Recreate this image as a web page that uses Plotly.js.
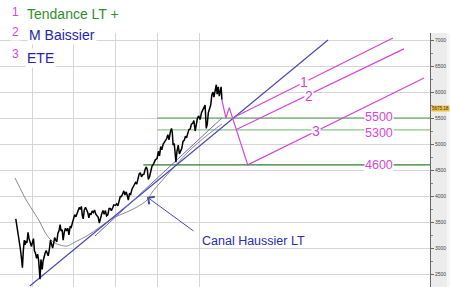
<!DOCTYPE html>
<html><head><meta charset="utf-8">
<script src="https://cdn.plot.ly/plotly-3.0.1.min.js"></script>
<style>html,body{margin:0;padding:0;background:#fff}#c{width:450px;height:287px}</style>
</head><body><div id="c"></div>
<script>
const priceDates = ['2002-08-12','2002-08-22','2002-09-01','2002-09-10','2002-09-20','2002-10-01','2002-10-09','2002-10-17','2002-10-25','2002-11-01','2002-11-08','2002-11-18','2002-11-27','2002-12-06','2002-12-16','2002-12-27',
'2003-01-06','2003-01-14','2003-01-22','2003-01-31','2003-02-10','2003-02-19','2003-02-28','2003-03-07','2003-03-12','2003-03-20','2003-03-31','2003-04-08','2003-04-17','2003-04-25','2003-05-05','2003-05-14','2003-05-23','2003-06-02','2003-06-12','2003-06-20','2003-06-30','2003-07-10','2003-07-18','2003-07-28','2003-08-06','2003-08-15','2003-08-25','2003-09-04','2003-09-12','2003-09-22','2003-09-30','2003-10-10','2003-10-20','2003-10-30','2003-11-10','2003-11-20','2003-12-01','2003-12-10','2003-12-19','2003-12-31',
'2004-01-09','2004-01-20','2004-01-30','2004-02-09','2004-02-18','2004-02-27','2004-03-08','2004-03-16','2004-03-24','2004-04-02','2004-04-13','2004-04-22','2004-05-03','2004-05-12','2004-05-21','2004-06-01','2004-06-10','2004-06-21','2004-07-01','2004-07-12','2004-07-22','2004-08-02','2004-08-12','2004-08-23','2004-09-02','2004-09-13','2004-09-23','2004-10-04','2004-10-14','2004-10-25','2004-11-05','2004-11-16','2004-11-25','2004-12-06','2004-12-16','2004-12-30',
'2005-01-11','2005-01-21','2005-02-01','2005-02-11','2005-02-22','2005-03-04','2005-03-14','2005-03-23','2005-04-04','2005-04-14','2005-04-22','2005-05-03','2005-05-13','2005-05-24','2005-06-03','2005-06-14','2005-06-24','2005-07-05','2005-07-15','2005-07-26','2005-08-05','2005-08-16','2005-08-26','2005-09-06','2005-09-16','2005-09-27','2005-10-06','2005-10-14','2005-10-25','2005-11-04','2005-11-15','2005-11-25','2005-12-06','2005-12-16','2005-12-30',
'2006-01-10','2006-01-20','2006-01-31','2006-02-10','2006-02-21','2006-03-03','2006-03-13','2006-03-23','2006-04-03','2006-04-13','2006-04-25','2006-05-05','2006-05-12','2006-05-19','2006-05-29','2006-06-07','2006-06-13','2006-06-22','2006-07-03','2006-07-13','2006-07-24','2006-08-03','2006-08-14','2006-08-24','2006-09-04','2006-09-14','2006-09-25','2006-10-05','2006-10-16','2006-10-26','2006-11-07','2006-11-17','2006-11-28','2006-12-07','2006-12-18','2006-12-29',
'2007-01-10','2007-01-22','2007-02-01','2007-02-13','2007-02-23','2007-03-05','2007-03-14','2007-03-23','2007-04-03','2007-04-13','2007-04-23','2007-05-03','2007-05-11','2007-05-21','2007-06-01','2007-06-08','2007-06-18','2007-06-27','2007-07-06','2007-07-13','2007-07-20'];
const priceValues = [3560,3420,3330,3150,3000,2800,2620,2950,3150,3060,3120,3100,3300,3180,3110,3030,
3120,3180,2950,2900,2800,2880,2760,2600,2400,2780,2590,2750,2850,2900,2950,2880,2850,2980,3150,3080,3000,3100,3200,3150,3120,3280,3330,3450,3330,3350,3150,3300,3380,3330,3380,3250,3420,3400,3490,3560,
3640,3600,3660,3720,3780,3740,3800,3620,3560,3730,3780,3740,3680,3580,3660,3650,3710,3680,3730,3650,3620,3590,3480,3600,3660,3720,3650,3720,3620,3640,3760,3760,3720,3770,3830,3820,
3850,3810,3930,3990,3990,4070,4100,4020,4080,4000,3920,4050,4030,4130,4180,4220,4260,4230,4350,4420,4450,4370,4410,4420,4510,4560,4500,4320,4370,4490,4570,4600,4650,4700,4720,
4860,4770,4950,4890,5000,5030,5060,5100,5180,5080,5230,5300,5220,4980,5010,4790,4650,4860,4980,4810,4880,4920,5050,5070,5150,5120,5210,5280,5290,5380,5400,5450,5250,5400,5500,5540,
5470,5600,5650,5720,5750,5300,5380,5600,5680,5750,5950,6000,5900,6050,6140,5960,6100,5920,6050,6100,5850];

const maDates = ['2002-08-05','2002-09-18','2002-11-01','2002-12-13','2003-01-27','2003-03-11','2003-04-23','2003-06-07','2003-07-20','2003-09-02','2003-11-02','2004-01-11','2004-04-25','2004-08-17','2004-12-09','2005-04-10','2005-07-07','2005-10-03','2005-11-24','2006-01-24','2006-06-04','2006-10-14','2007-02-22','2007-07-20'];
const maValues = [4346,4154,3962,3808,3654,3500,3308,3173,3096,3058,3038,3115,3231,3404,3577,3692,3788,3923,4096,4250,4577,4885,5135,5385];

const canalDates = ['2002-12-13','2010-02-02'];
const canalValues = [2269,7000];
const canal2Dates = ['2004-07-05','2007-07-20'];
const canal2Values = [3231,5500];

const eteDates = ['2007-07-20','2007-08-24','2007-09-22','2008-03-02','2012-05-22'];
const eteValues = [5850,5500,5700,4600,6270];
const line1Dates = ['2007-10-22','2011-08-24'];
const line1Values = [5500,7040];
const line2Dates = ['2007-11-23','2011-11-28'];
const line2Values = [5280,6830];

const supportLevels = [5500,5270,4600];
const supportLabels = ['5500','5300','4600'];
const supportLabelValues = [5510,5215,4600];
const supportStarts = ['2006-01-01','2006-01-01','2005-09-01'];
const supportColors = ['#4d9a4d','#8cc48c','#2f7d2f'];
const xStart = '2002-03-27', xEnd = '2012-07-13';
const yearTicks = ['2003-01-01','2004-01-01','2005-01-01','2006-01-01','2007-01-01'];

const MAG = '#d646d6', BLUE = '#4646b4';
const traces = [];
supportLevels.forEach((v,i)=>{
  traces.push({x:[supportStarts[i], xEnd], y:[v,v], mode:'lines', line:{color:supportColors[i], width:1.2}, hoverinfo:'skip'});
});
traces.push({x:maDates, y:maValues, mode:'lines', line:{color:'#8a8a9a', width:1, shape:'spline'}});
traces.push({x:canalDates, y:canalValues, mode:'lines', line:{color:BLUE, width:1.1}});
traces.push({x:canal2Dates, y:canal2Values, mode:'lines', line:{color:'#6a6ac0', width:1}});
traces.push({x:priceDates, y:priceValues, mode:'lines', line:{color:'#000', width:1.5}});
traces.push({x:eteDates, y:eteValues, mode:'lines', line:{color:MAG, width:1.2}});
traces.push({x:line1Dates, y:line1Values, mode:'lines', line:{color:MAG, width:1.2}});
traces.push({x:line2Dates, y:line2Values, mode:'lines', line:{color:MAG, width:1.2}});

const F = 'Liberation Sans, Arial, sans-serif';
function lab(x,y,t,size){return {x:x,y:y,xref:'x',yref:'y',text:t,showarrow:false,font:{family:F,size:size,color:MAG},bgcolor:'#fff',borderpad:0,xanchor:'center',yanchor:'middle'};}
function leg(px,py,t,color,size){return {x:px/430,y:(287-py)/254,xref:'paper',yref:'paper',text:t,showarrow:false,xanchor:'left',yanchor:'middle',font:{family:F,size:size,color:color},bgcolor:'#fff',borderpad:1};}

const annotations = [
  leg(10,12,'1',MAG,12), leg(25,14,'Tendance LT +','#2f8f2f',14),
  leg(10,32,'2',MAG,12), leg(27,35,'M Baissier','#2424b4',14),
  leg(10,54,'3',MAG,12), leg(25,58,'ETE','#2424b4',14),
  lab('2009-07-07',6192,'1',14), lab('2009-08-20',5933,'2',14), lab('2009-10-20',5250,'3',14),
  {x:'2005-10-03',y:3981,xref:'x',yref:'y',ax:'2006-11-26',ay:3308,axref:'x',ayref:'y',text:'',showarrow:true,arrowhead:4,arrowsize:1.8,arrowwidth:1,arrowcolor:BLUE},
  {x:200/430,y:(287-241)/254,xref:'paper',yref:'paper',text:'Canal Haussier LT',showarrow:false,xanchor:'left',yanchor:'middle',font:{family:F,size:12.5,color:'#2a2ab8'}},
  {x:1.002,y:5675,xref:'paper',yref:'y',text:'5675.18',showarrow:false,xanchor:'left',yanchor:'middle',font:{family:F,size:4.5,color:'#333'},bgcolor:'#f0c040',borderpad:0}
];
supportLabels.forEach((t,i)=>annotations.push(lab('2011-04-22', supportLabelValues[i], t, 12.5)));

const layout = {
  width:450, height:287, margin:{l:0,r:20,t:33,b:0},
  paper_bgcolor:'#fff', plot_bgcolor:'#fff', showlegend:false,
  xaxis:{type:'date', range:[xStart,xEnd], tickmode:'array', tickvals:yearTicks, showticklabels:false, showgrid:true, gridcolor:'#d6d6d6', gridwidth:1, zeroline:false, showline:false, ticks:''},
  yaxis:{range:[2250,7135], side:'right', tickmode:'linear', tick0:2500, dtick:500, showgrid:true, gridcolor:'#d6d6d6', gridwidth:1, zeroline:false,
    showline:true, linecolor:'#666', linewidth:1, ticks:'outside', ticklen:3, tickcolor:'#666',
    tickfont:{family:F,size:5,color:'#444'}, ticklabelstandoff:0,
    minor:{ticks:'outside', ticklen:2, dtick:250, tickcolor:'#888', showgrid:false}},
  shapes:[
    {type:'rect', xref:'paper', yref:'paper', x0:1.0, x1:447/430, y0:0, y1:1.0, fillcolor:'#ececec', line:{width:0}, layer:'below'},
    {type:'rect', xref:'paper', yref:'paper', x0:447/430, x1:1.05, y0:0, y1:1.0, fillcolor:'#f6f6f6', line:{width:0}, layer:'below'}
  ],
  annotations:annotations
};
Plotly.newPlot('c', traces, layout, {displayModeBar:false, staticPlot:true});
</script></body></html>
